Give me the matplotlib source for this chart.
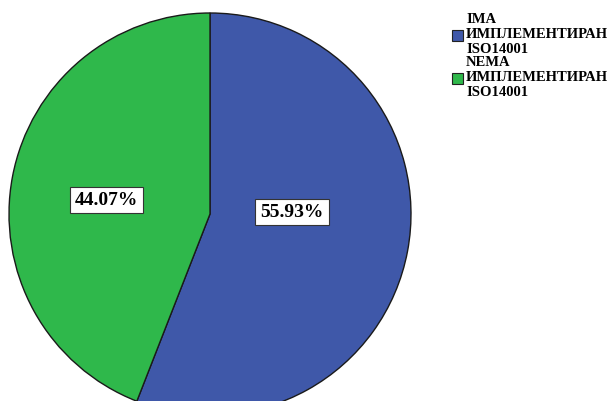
import matplotlib.pyplot as plt
import matplotlib.patches as patches

labels = ["IMA\nИМПЛЕМЕНТИРАН\nISO14001", "NEMA\nИМПЛЕМЕНТИРАН\nISO14001"]
values = [55.93, 44.07]
colors = ["#3f58a9", "#2fb84b"]

FONT = {"family": "Liberation Serif", "weight": "bold"}

fig = plt.figure(figsize=(6.08, 4.02), dpi=100)
# pie centre at (210, 215) px, radius 201 px
ax = fig.add_axes([(210 - 201) / 608, (402 - 215 - 201) / 402, 402 / 608, 402 / 402])

wedges, texts, autotexts = ax.pie(
    values,
    colors=colors,
    startangle=90,
    counterclock=False,
    radius=1,
    autopct=lambda p: f"{p:.2f}%",
    wedgeprops=dict(edgecolor="#1a1a1a", linewidth=1.0),
    textprops=dict(fontsize=14, color="black", **FONT),
)
# SPSS-ish label placement
label_pos = [(0.408, 0.01), (-0.517, 0.07)]
for t, pos in zip(autotexts, label_pos):
    t.set_position(pos)
    t.set_bbox(dict(facecolor="white", edgecolor="#333333", linewidth=0.8,
                    boxstyle="square,pad=0.25"))
ax.set_xlim(-1, 1)
ax.set_ylim(-1, 1)
ax.set_aspect("equal")
ax.axis("off")

# legend drawn by hand
for i, (lab, c) in enumerate(zip(labels, colors)):
    ytop = 13 + i * 43
    rect = patches.Rectangle(
        (452 / 608, 1 - (ytop + 29) / 402), 11 / 608, 11 / 402,
        transform=fig.transFigure, facecolor=c, edgecolor="#222222", linewidth=0.8,
    )
    fig.patches.append(rect)
    fig.text(466 / 608, 1 - ytop / 402, lab, ha="left", va="top",
             fontsize=10.5, linespacing=1.2, **FONT)

fig.savefig("out.png", dpi=100)
